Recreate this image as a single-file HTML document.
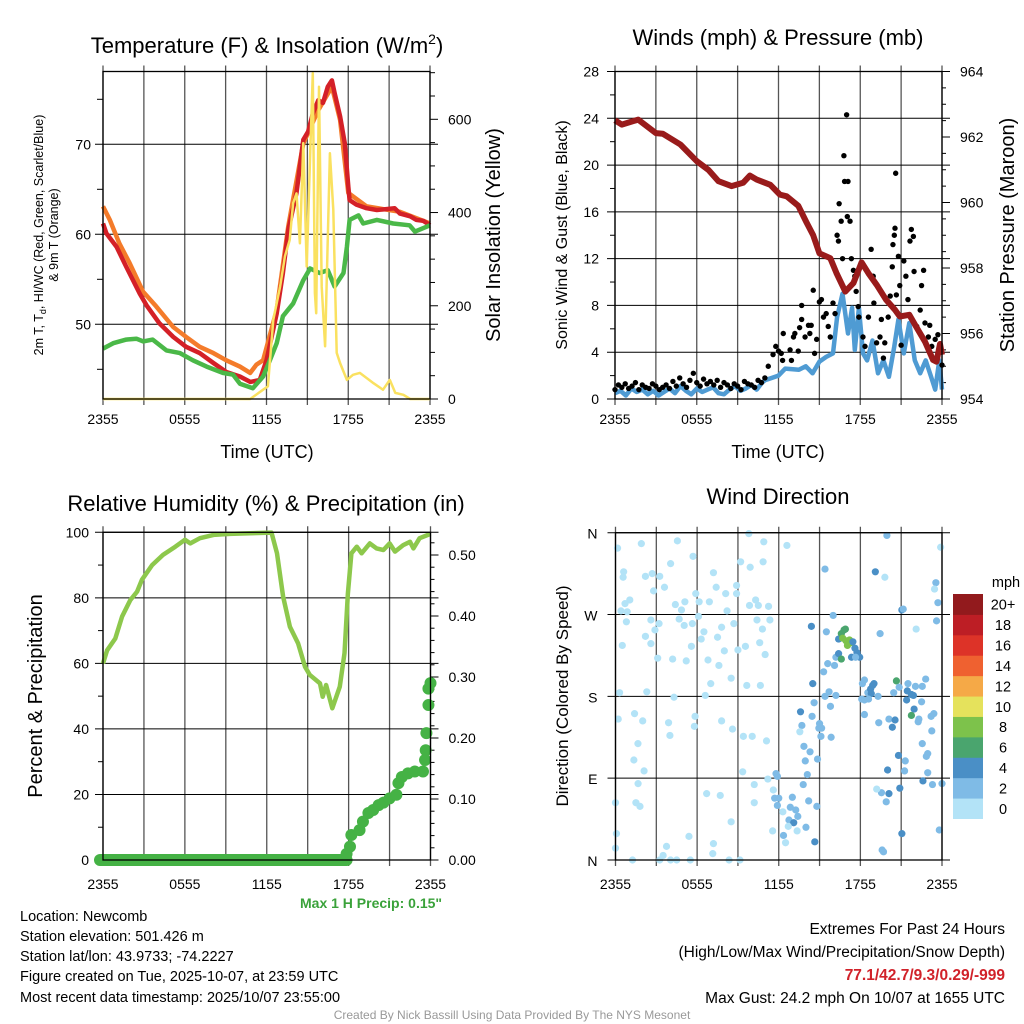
<!DOCTYPE html>
<html><head><meta charset="utf-8"><style>
body{margin:0;background:#fff}
svg{display:block;font-family:"Liberation Sans",sans-serif}
</style></head><body>
<svg id="s" width="1024" height="1024" viewBox="0 0 1024 1024">
<g id="titles" font-size="22" text-anchor="middle" fill="#000">
<text x="267" y="53">Temperature (F) &amp; Insolation (W/m<tspan font-size="14" dy="-9">2</tspan><tspan dy="9">)</tspan></text>
<text x="778" y="45">Winds (mph) &amp; Pressure (mb)</text>
<text x="266" y="511">Relative Humidity (%) &amp; Precipitation (in)</text>
<text x="778" y="504">Wind Direction</text>
</g>
<g font-size="18" text-anchor="middle">
<text x="267" y="458">Time (UTC)</text>
<text x="778" y="458">Time (UTC)</text>
</g>
<text transform="translate(43,235) rotate(-90)" font-size="12.5" text-anchor="middle">2m T, T<tspan font-size="9" dy="3">d</tspan><tspan dy="-3">, HI/WC (Red, Green, Scarlet/Blue)</tspan></text>
<text transform="translate(58,235) rotate(-90)" font-size="12.5" text-anchor="middle">&amp; 9m T (Orange)</text>
<text transform="translate(500,235) rotate(-90)" font-size="20" text-anchor="middle">Solar Insolation (Yellow)</text>
<text transform="translate(567,235) rotate(-90)" font-size="16" text-anchor="middle">Sonic Wind &amp; Gust (Blue, Black)</text>
<text transform="translate(1014,235) rotate(-90)" font-size="20" text-anchor="middle">Station Pressure (Maroon)</text>
<text transform="translate(42,696) rotate(-90)" font-size="20" text-anchor="middle">Percent &amp; Precipitation</text>
<text transform="translate(568,696) rotate(-90)" font-size="17" text-anchor="middle">Direction (Colored By Speed)</text>
<text x="300" y="908" font-size="14" font-weight="bold" fill="#3aa23a" text-anchor="start">Max 1 H Precip: 0.15"</text>
<g font-size="14.5">
<text x="20" y="921">Location: Newcomb</text>
<text x="20" y="941">Station elevation: 501.426 m</text>
<text x="20" y="961">Station lat/lon: 43.9733; -74.2227</text>
<text x="20" y="981">Figure created on Tue, 2025-10-07, at 23:59 UTC</text>
<text x="20" y="1002">Most recent data timestamp: 2025/10/07 23:55:00</text>
</g>
<g font-size="15.5" text-anchor="end">
<text x="1005" y="934">Extremes For Past 24 Hours</text>
<text x="1005" y="957">(High/Low/Max Wind/Precipitation/Snow Depth)</text>
<text x="1005" y="980" fill="#d1222a" font-weight="bold">77.1/42.7/9.3/0.29/-999</text>
<text x="1005" y="1003">Max Gust: 24.2 mph On 10/07 at 1655 UTC</text>
</g>
<text x="512" y="1019" font-size="12" fill="#999" text-anchor="middle">Created By Nick Bassill Using Data Provided By The NYS Mesonet</text>
</svg>
<script>
// ---- Temperature panel data (hours since 2355, °F / W m^-2)
const tHrs=[0,0.25,1,1.7,2.7,3.2,4.15,5.15,6.1,7.1,8.1,9.05,10.05,10.8,11.5,12,12.75,13.2,13.6,14.2,14.7,15.05,15.4,15.8,16.15,16.5,16.8,17,17.4,17.75,18,18.1,18.6,19.35,20.1,20.8,21.4,21.8,22.55,23,23.5,24];
const tempVals=[61.2,60.1,58.6,56.4,53.4,52.1,50.1,48.6,47.5,46.8,45.7,44.7,44.2,43.6,43.8,46,51.2,55.7,60.5,64.6,70.5,71.4,73.4,74.9,74.6,76.4,77.1,75.7,73.1,70.1,65.3,63.8,63.3,62.9,62.7,62.8,62.9,62.3,62,61.6,61.5,61];
const t9Hrs=[0,0.5,1.2,1.95,2.95,3.9,5.15,6.1,7.1,8.1,9.05,10.05,10.8,11.25,11.75,12.75,13.6,14.7,15.8,16.8,17.4,18,19.35,21.8,24];
const t9Vals=[63.1,61.6,59,56.8,53.6,52,49.7,48.6,47.5,46.8,46,45.3,44.6,45.5,46,51.6,60.9,70.1,73.8,76.4,72.7,64.6,63.1,62.5,61.2];
const tdHrs=[0,0.75,1.7,2.45,2.95,3.65,4.65,5.65,6.6,7.6,8.8,9.55,10.05,11,11.75,12.25,12.75,13.2,13.95,14.7,15.2,15.9,16.5,17,17.65,17.9,18.1,18.75,19.1,20.1,21.3,22.5,22.9,24];
const tdVals=[47.3,47.9,48.3,48.4,48.1,48.3,47.1,46.8,46,45.3,44.6,44.4,43.4,42.9,44.2,46,47.9,50.9,52.3,54.9,56.2,55.7,56,54.2,55.7,58.6,61.6,62.1,61.2,61.6,61.2,61,60.3,61];
const solHrs=[0,10.8,11.75,12.1,12.5,13,13.35,13.7,13.95,14.2,14.45,14.7,14.95,15.2,15.4,15.55,15.65,15.85,16.05,16.3,16.65,16.9,17.15,17.4,17.9,18.35,18.85,19.35,19.85,20.55,21.05,21.45,22.05,22.55,24];
const solVals=[0,0,20,27,170,241,306,341,420,441,334,549,284,520,699,227,184,670,241,113,527,406,99,77,41,52,56,45,34,20,41,13,9,0,0];
// ---- Wind panel data
const presHrs=[0,0.5,1.7,3,3.5,4.8,6,6.85,7.6,8.55,9.4,9.9,10.4,11.4,12.1,12.6,13.45,14.05,14.55,15,15.8,16.25,16.9,17.5,18.1,18.6,19.2,19.9,20.55,20.9,21.6,22.1,22.75,23.35,23.6,23.85,24];
const presVals=[962.51,962.38,962.53,962.12,962.1,961.77,961.26,961,960.65,960.5,960.6,960.82,960.7,960.54,960.24,960.19,959.9,959.4,959,958.45,958.3,957.85,957.28,957.54,958.17,957.84,957.49,957.03,956.72,956.52,956.57,956.21,955.75,955.19,955.14,955.68,955.35];
const windHrs=[0,0.4,0.8,1.2,1.6,2,2.4,2.8,3.2,3.6,4,4.4,4.8,5.2,5.6,6,6.4,6.8,7.2,7.6,8,8.4,8.8,9.2,9.6,10,10.4,10.8,11,12,12.5,13.5,14,14.5,15,15.5,16,16.3,16.7,17.1,17.4,17.6,17.9,18.2,18.5,18.9,19.3,19.7,20.1,20.5,20.8,21.2,21.6,22,22.4,22.8,23.2,23.5,23.8,24];
const windVals=[0.5,0.7,0.3,0.9,0.6,0.8,0.4,0.7,0.3,0.6,0.9,0.5,1.1,0.7,0.4,0.9,0.6,0.8,1,0.5,0.4,0.8,1.1,0.7,0.9,1.2,0.8,1.4,1.6,2,2.6,2.5,2.8,2.2,3.2,3.6,3.9,7,9,5.6,7.8,4.2,7.8,3.9,3.3,5,2.2,3.3,1.9,4.5,6.8,3.9,6.5,3.3,2.2,3.3,1.9,0.8,3.3,0.8];
const gustHrs=[0,0.25,0.5,0.75,1,1.25,1.5,1.75,2,2.25,2.5,2.75,3,3.25,3.5,3.75,4,4.25,4.5,4.75,5,5.25,5.5,5.75,6,6.25,6.5,6.75,7,7.25,7.5,7.75,8,8.25,8.5,8.75,9,9.25,9.5,9.75,10,10.25,10.5,10.75,11,11.25,11.6,11.8,12,12.35,12.2,12.3,12.85,12.95,13.1,13.2,13.45,13.55,13.7,13.7,13.95,14.2,14.3,14.4,14.55,14.65,14.8,15,15.15,15.3,15.5,15.65,15.8,16,16.15,16.3,16.4,16.45,16.6,16.7,16.8,16.85,17,17.05,17.1,17.25,17.35,17.5,17.6,17.7,17.85,17.9,18.2,18.35,18.6,18.8,18.95,19,19.2,19.45,19.55,19.7,19.8,20.05,20.2,20.35,20.4,20.5,20.55,20.6,20.65,20.8,20.9,21,21.2,21.35,21.5,21.65,21.75,21.9,21.95,22.15,22.4,22.5,22.65,22.75,23,23.1,23.25,23.5,23.7,24];
const gustVals=[0.8,1.2,1,1.3,0.9,1.1,1.4,0.8,1.2,1,0.9,1.3,1.1,0.8,1,1.2,0.9,1.5,1.1,1.8,1.3,1,1.6,2.2,1.4,1.1,1.7,1.3,1.5,1.2,1.6,1,1.4,1.2,0.9,1.3,1.1,0.8,1.5,1.3,1.2,1,1.6,1.4,1.8,2.8,3.8,4.5,4.1,5.6,3.9,3.3,4.2,3.3,5.3,5.6,4.1,6.1,8,6.8,5.3,6.3,5.6,6.3,9.3,3.9,5.1,8.3,8.5,7,7.3,6.2,5.3,8.2,7.3,14,13.5,16.7,15.2,12,20.8,18.6,24.3,15.6,18.6,15.2,12,11,10.5,9.2,7.9,7,5.3,4.5,7,12.8,10.5,8.2,4.8,5.3,6.8,3.5,4.8,7,8.8,11.3,13.2,14,14.6,19.3,8.9,12.2,9.7,4.6,11.8,10.5,8.5,13.5,14.5,13.9,10.9,6.2,7.6,9.7,11,6.5,5.3,6.3,4.5,5.1,5.5,2.9];
// ---- RH / precip data
const rhHrs=[0,0.3,0.9,1.4,2,2.5,2.85,3.6,4.4,5.3,6,6.4,7.1,8.1,9.3,10.8,12.35,12.75,13.2,13.7,14.3,14.8,15.15,15.9,16.1,16.35,16.8,17.35,17.7,17.95,18.2,18.6,18.95,19.55,20.05,20.55,21,21.4,22,22.5,22.75,23.2,24];
const rhVals=[60,64,67.6,74.3,79.3,81.9,85.5,90,93.1,95.6,97.7,96.6,98.2,99.2,99.5,99.7,99.9,93.6,80.4,71.2,66.1,59,56.5,53.9,49.8,53.4,46.3,52.9,63.1,81.4,93.6,95.6,93.6,96.6,95.1,94.6,96.6,94.1,96.1,97.1,95.1,98.2,99.5];
const pcpHrs=[17.85,18.1,18.2,18.8,19.05,19.45,19.8,20.2,20.55,21,21.5,21.65,21.9,22.35,22.85,23.45,23.6,23.65,23.7,23.85,23.85,24];
const pcpVals=[0.01,0.022,0.041,0.049,0.063,0.077,0.082,0.09,0.094,0.101,0.107,0.126,0.136,0.142,0.145,0.145,0.164,0.18,0.208,0.254,0.281,0.29];
// ---- Wind direction scatter (hour, degrees, speed class)
const dirHrs=[0.15,0.6,0.56,1.9,0.4,0.86,0.8,1.05,0.7,2.2,2.7,2.8,3.25,3.6,4.05,4.55,5.7,2.6,3.2,2.9,2.2,2.6,0.5,3.1,4.2,0.3,0.2,2.3,4.3,1.4,2,1.65,1.35,2.1,1.66,1.5,1.8,0,0.07,0,1.25,3.75,3.5,3.25,4.05,4.5,5.5,5.4,3.9,4,4.4,4.85,5.1,4.68,5.05,5.65,5.2,5.58,5.9,6.15,6.3,6.1,6.5,6.9,6.8,7,6.6,7.2,7.4,7.5,7.6,7.8,8,8.2,8.1,5.85,5.8,6.7,7.7,7.8,8.6,7.2,7.15,8.5,8.35,9.15,8.5,8.7,8.9,8.9,9.2,9.9,9.8,9.55,9,9.4,10.05,9.65,9.35,10.2,10.2,9.85,10.5,10.3,10.4,10.6,10.65,10.8,10.9,10.85,11,11.25,11.35,11.1,11.2,12.6,11.55,12.5,
11.8,11.9,11.6,11.7,12,11.9,12.3,13,12.85,13.25,13.4,12.75,13.1,12.7,12.35,13.35,14,14.65,13.8,14.2,14.8,14.1,13.95,13.85,14.3,14.85,13.7,13.6,13.55,14.45,14.6,15,14.95,15.15,15.1,15.85,15.8,15.4,15.7,16.2,15.3,15.6,16.1,16.2,16.4,16.6,14.5,14.4,15.5,15.4,16,16.4,16.6,16.8,16.9,16.7,16.95,17.2,17.05,17.3,17.45,17.6,17.35,17.75,17.95,17.65,18.3,18.15,18.1,18.3,18.3,18.55,18.9,19,18.75,18.8,18.6,19.1,19.8,19.95,19.45,19.3,19.35,20.1,20.55,20.35,20.45,20.65,20.85,21.05,21.15,21.5,21.45,21.4,21.75,22.05,21.9,22.5,21.95,21.75,22.25,22.3,22.55,22.8,23.2,23.4,23.25,22.55,22.95,22.85,22.95,22.6,23.3,21.25,21.3,20.8,20,20.9,20.1,19.55,19.9,19.2,21.05,19.6,19.7,22.1,23.6,23.7,23.55,23.45,23.9,23.8,24];
const dirDegs=[343,317,311,348,274,273,262,286,282,312,315,296,312,300,326,351,334,264,260,253,246,238,236,222,221,184,155,185,179,161,153,128,110,98,84,63,59,63,29,13,0,15,5,0,0,0,0,26,151,137,281,275,284,265,258,260,219,235,293,284,243,268,251,284,220,194,181,316,300,245,214,256,230,274,293,158,147,73,71,153,144,18,7,42,0,0,200,260,302,293,328,322,359,235,231,136,136,192,97,83,63,280,280,286,264,239,192,254,350,328,226,279,264,131,89,346,32,19,
95,92,77,68,68,60,53,69,58,55,48,44,41,37,27,32,36,20,83,65,59,94,109,125,119,111,148,163,141,158,173,150,145,145,136,135,169,180,185,181,207,216,214,223,227,221,194,257,251,320,269,243,249,253,254,244,241,242,236,239,240,233,223,228,223,223,198,194,177,176,160,184,192,194,188,183,177,317,311,357,249,180,151,155,154,146,184,197,190,275,276,194,186,176,182,191,181,174,166,159,152,155,191,199,158,161,142,128,117,114,96,87,83,98,109,115,99,79,73,74,64,78,29,11,9,254,263,283,305,298,344,33,84];
const dirSpd=[0,0,0,0,0,0,0,0,0,0,0,0,0,0,0,0,0,0,0,0,0,0,0,0,0,0,0,0,0,0,0,0,0,0,0,0,0,0,0,0,0,0,0,0,0,0,0,0,0,0,0,0,0,0,0,0,0,0,0,0,0,0,0,0,0,0,0,0,0,0,0,0,0,0,0,0,0,0,0,0,0,0,0,0,0,0,0,0,0,0,0,0,0,0,0,0,0,0,0,0,0,0,0,0,0,0,0,0,0,0,0,0,0,0,0,0,0,0,
1,1,0,1,1,1,0,1,1,1,1,1,2,0,1,0,1,2,1,1,1,1,1,1,1,1,1,2,0,1,1,1,1,1,1,1,1,1,1,1,1,1,1,1,2,3,2,2,1,1,1,2,3,3,3,4,4,4,4,4,2,2,2,2,2,1,1,1,1,1,1,1,2,2,2,2,1,2,0,1,1,1,1,1,2,2,1,3,1,2,1,1,2,2,2,1,2,1,2,3,1,1,1,1,1,1,1,1,1,1,1,2,1,1,1,2,2,2,2,1,1,0,2,1,1,0,1,1,1,0,0];
const spdColors=['#b3e3f7','#7fbbe6','#4a8fc6','#4aa56e','#7dc24b','#e5e25c','#f5a947','#ef6130','#dd3328','#bd1e25','#921a1d'];
const spdLabels=['0','2','4','6','8','10','12','14','16','18','20+'];
const xTickLabels=['2355','0555','1155','1755','2355'];

const NS='http://www.w3.org/2000/svg';
const svg=document.getElementById('s');
function mk(tag,attrs,parent){const e=document.createElementNS(NS,tag);for(const k in attrs)e.setAttribute(k,attrs[k]);(parent||svg).appendChild(e);return e;}
function txt(x,y,s,anchor,size,parent){const t=mk('text',{x:x,y:y,'font-size':size||14,'text-anchor':anchor||'middle'},parent);t.textContent=s;return t;}
function scale(d0,d1,r0,r1){return v=>r0+(v-d0)*(r1-r0)/(d1-d0);}
function pathOf(xs,ys,fx,fy){return xs.map((h,i)=>(i?'L':'M')+fx(h).toFixed(1)+','+fy(ys[i]).toFixed(1)).join('');}

function frame(p,name){
  const g=mk('g',{});
  
  
  for(let h=0;h<=24;h+=3){const x=p.x(h);mk('line',{x1:x,x2:x,y1:p.t-6,y2:p.b+6,stroke:'#555','stroke-width':1.3},g);}
  for(let i=0;i<5;i++){const x=p.x(i*6);const l=txt(x,p.b+p.lo,xTickLabels[i],'middle',14,g);
    
    }
  return g;
}
function hgrid(g,p,y){mk('line',{x1:p.l-8,x2:p.r+8,y1:y,y2:y,stroke:'#000','stroke-width':1},g);}
function box(g,p){mk('rect',{x:p.l,y:p.t,width:p.r-p.l,height:p.b-p.t,fill:'none',stroke:'#000','stroke-width':1.3},g);}

// ===== Panel 1: temperature
{
const p={l:103,r:430,t:71.5,b:399,lo:25};p.x=scale(0,24,p.l,p.r);
const yT=scale(50,70,324.3,144.3), yS=scale(0,600,399,119.3);
const g=frame(p,'temperature-panel');
[50,60,70].forEach(v=>{hgrid(g,p,yT(v));const l=txt(p.l-12,yT(v)+5,String(v),'end',14,g);
  
  });
[45,55,65,75].forEach(v=>mk('line',{x1:p.l-6,x2:p.l,y1:yT(v),y2:yT(v),stroke:'#000'},g));
for(let v=0;v<=700;v+=50){mk('line',{x1:p.r,x2:p.r+(v%200?5:8),y1:yS(v),y2:yS(v),stroke:'#000'},g);}
[0,200,400,600].forEach(v=>{const l=txt(p.r+18,yS(v)+5,String(v),'start',14,g);
  
  });
mk('line',{x1:p.l,x2:p.r,y1:p.t,y2:p.t,stroke:'#000'},g);
const s1=mk('path',{d:pathOf(tHrs,tempVals,p.x,yT),fill:'none',stroke:'#d42027','stroke-width':4.5,'stroke-linejoin':'round'},g);
const s2=mk('path',{d:pathOf(t9Hrs,t9Vals,p.x,yT),fill:'none',stroke:'#f47b2a','stroke-width':4.5,'stroke-linejoin':'round'},g);
s1.before(s2);
const s3=mk('path',{d:pathOf(tdHrs,tdVals,p.x,yT),fill:'none',stroke:'#4ab848','stroke-width':4.5,'stroke-linejoin':'round'},g);
const s4=mk('path',{d:pathOf(solHrs,solVals,p.x,yS),fill:'none',stroke:'#fae160','stroke-width':2.5,'stroke-linejoin':'round'},g);




box(g,p);
}
// ===== Panel 2: winds
{
const p={l:615,r:942,t:71.5,b:399,lo:25};p.x=scale(0,24,p.l,p.r);
const yW=scale(0,28,399,71.5), yP=scale(954,964,399,71.5);
const g=frame(p,'winds-panel');
for(let v=0;v<=28;v+=4){hgrid(g,p,yW(v));const l=txt(p.l-16,yW(v)+5,String(v),'end',14,g);
  
  }
for(let v=2;v<28;v+=4)mk('line',{x1:p.l-5,x2:p.l,y1:yW(v),y2:yW(v),stroke:'#000'},g);
for(let v=954;v<=964;v+=0.5)mk('line',{x1:p.r,x2:p.r+(v%2?4:8),y1:yP(v),y2:yP(v),stroke:'#000'},g);
for(let v=954;v<=964;v+=2){const l=txt(p.r+18,yP(v)+5,String(v),'start',14,g);
  
  }
const w=mk('path',{d:pathOf(windHrs,windVals,p.x,yW),fill:'none',stroke:'#4f9bd3','stroke-width':4.5,'stroke-linejoin':'round'},g);

gustHrs.forEach((h,i)=>{const c=mk('circle',{cx:p.x(h),cy:yW(gustVals[i]),r:2.7,fill:'#000'},g);
  
  });
const pr=mk('path',{d:pathOf(presHrs,presVals,p.x,yP),fill:'none',stroke:'#991b1b','stroke-width':6,'stroke-linejoin':'round'},g);

box(g,p);
}
// ===== Panel 3: RH & precip
{
const p={l:103,r:430.5,t:532.3,b:860,lo:29};p.x=scale(0,24,p.l,p.r);
const yR=scale(0,100,860,532.3), yQ=scale(0,0.5,860,555);
const g=frame(p,'humidity-panel');
for(let v=0;v<=100;v+=20){hgrid(g,p,yR(v));const l=txt(p.l-14,yR(v)+5,String(v),'end',14,g);
  
  }
for(let v=10;v<100;v+=20)mk('line',{x1:p.l-5,x2:p.l,y1:yR(v),y2:yR(v),stroke:'#000'},g);
for(let v=0;v<=0.54;v+=0.02)mk('line',{x1:p.r,x2:p.r+(Math.round(v*100)%10?4:8),y1:yQ(v),y2:yQ(v),stroke:'#000'},g);
for(let v=0;v<=0.5;v+=0.1){const l=txt(p.r+18,yQ(v)+5,v.toFixed(2),'start',14,g);
  
  }
const rl=mk('path',{d:pathOf(rhHrs,rhVals,p.x,yR),fill:'none',stroke:'#8dc84c','stroke-width':4.5,'stroke-linejoin':'round'},g);

const zl=mk('line',{x1:p.l-3,x2:p.x(pcpHrs[0]),y1:yQ(0),y2:yQ(0),stroke:'#45b245','stroke-width':12,'stroke-linecap':'round'},g);

pcpHrs.forEach((h,i)=>{const c=mk('circle',{cx:p.x(h),cy:yQ(pcpVals[i]),r:6,fill:'#45b245'},g);
  
  });
box(g,p);
}
// ===== Panel 4: wind direction
{
const p={l:615.5,r:942,t:532.7,b:860,lo:29};p.x=scale(0,24,p.l,p.r);
const yD=scale(0,360,860,532.7);
const g=frame(p,'wind-direction-panel');
['N','E','S','W','N'].forEach((s,i)=>{hgrid(g,p,yD(i*90));const l=txt(p.l-18,yD(i*90)+6,s,'end',14,g);
  
  });
dirHrs.forEach((h,i)=>{const k=(dirSpd[i]===undefined)?1:dirSpd[i];
  const c=mk('circle',{cx:p.x(h),cy:yD(dirDegs[i]),r:3.6,fill:spdColors[k]},g);
  
  });
box(g,p);
const lg=mk('g',{});


const bh=224.5/11;
spdColors.forEach((c,i)=>{const y=818.5-(i+1)*bh;mk('rect',{x:953,y:y,width:30,height:bh+0.5,fill:c},lg);
  const l=txt(1003,y+bh/2+5.5,spdLabels[i],'middle',14.5,lg);
  
  });
txt(1006,587,'mph','middle',14.5,lg);
}
</script>
</body></html>
